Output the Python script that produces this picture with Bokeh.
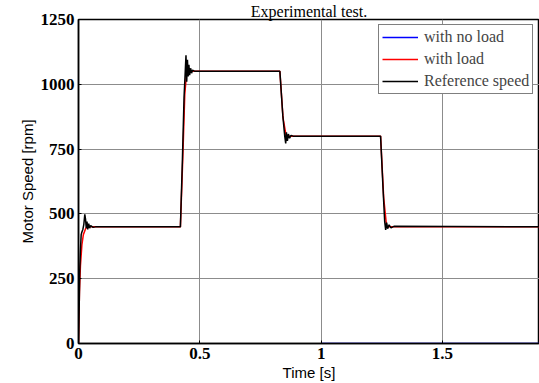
from bokeh.plotting import figure
from bokeh.models import Range1d, Legend, LegendItem, FixedTicker
from bokeh.embed import file_html
from bokeh.resources import INLINE

# Reference speed (black)
ref_t = [0, 0.003, 0.005, 0.008, 0.011, 0.014, 0.018, 0.022, 0.026, 0.029, 0.032, 0.035,
         0.038, 0.042, 0.046, 0.05, 0.06, 0.07, 0.42, 0.428, 0.435, 0.44, 0.443, 0.446,
         0.449, 0.452, 0.455, 0.458, 0.462, 0.466, 0.47, 0.48, 0.83, 0.842, 0.85, 0.854,
         0.857, 0.861, 0.865, 0.87, 0.876, 0.885, 1.245, 1.255, 1.262, 1.266, 1.27, 1.274,
         1.28, 1.288, 1.3, 1.9]
ref_v = [0, 150, 280, 360, 420, 430, 440, 460, 498, 480, 445, 470, 440, 462, 445, 455, 448,
         450, 450, 700, 950, 1050, 1112, 1010, 1095, 1030, 1075, 1035, 1062, 1043, 1055,
         1050, 1050, 880, 800, 772, 815, 782, 808, 792, 803, 800, 800, 600, 470, 438, 466,
         443, 458, 446, 452, 450]

# With load (red)
load_t = [0, 0.004, 0.008, 0.014, 0.02, 0.03, 0.045, 0.42, 0.43, 0.438, 0.446, 0.83,
          0.843, 0.856, 1.245, 1.258, 1.27, 1.9]
load_v = [0, 200, 300, 380, 420, 445, 450, 450, 720, 960, 1050, 1050, 870, 800, 800,
          560, 450, 450]

# With no load (blue)
noload_t = [1.0, 1.9]
noload_v = [0, 0]

x_ticks = [0, 0.5, 1, 1.5]
y_ticks = [0, 250, 500, 750, 1000, 1250]

SERIF = "Times New Roman"
SANS = "Arial"

p = figure(width=539, height=383, output_backend="svg", toolbar_location=None,
           x_range=Range1d(0, 1.9), y_range=Range1d(0, 1250),
           min_border_left=78, min_border_right=0, min_border_top=0, min_border_bottom=40,
           title="Experimental test.")
p.outline_line_color = "black"
p.outline_line_width = 1.5
p.background_fill_color = "white"
p.border_fill_color = "white"

p.title.align = "center"
p.title.text_font = SERIF
p.title.text_font_style = "normal"
p.title.text_font_size = "16px"
p.title.text_color = "black"
p.title.standoff = 0
p.title.text_line_height = 0.5

r_blue = p.line(noload_t, noload_v, line_color="#0000ff", line_width=1.5)
r_red = p.line(load_t, load_v, line_color="#ff0000", line_width=1.5)
r_black = p.line(ref_t, ref_v, line_color="black", line_width=1.5)

for ax in (p.xaxis[0], p.yaxis[0]):
    ax.major_label_text_font = SERIF
    ax.major_label_text_font_style = "bold"
    ax.major_label_text_font_size = "17px"
    ax.major_label_text_color = "black"
    ax.axis_label_text_font = SANS
    ax.axis_label_text_font_style = "normal"
    ax.axis_label_text_font_size = "15px"
    ax.axis_label_text_color = "black"
    ax.major_tick_in = 3
    ax.major_tick_out = 0
    ax.minor_tick_line_color = None
    ax.axis_line_color = "black"
    ax.axis_line_width = 1.5
    ax.major_label_standoff = 4
    ax.axis_label_standoff = 2

p.xaxis[0].ticker = FixedTicker(ticks=x_ticks)
p.yaxis[0].ticker = FixedTicker(ticks=y_ticks)
p.xaxis[0].axis_label = "Time [s]"
p.yaxis[0].axis_label = "Motor Speed [rpm]"

p.xgrid.ticker = FixedTicker(ticks=x_ticks)
p.ygrid.ticker = FixedTicker(ticks=y_ticks)
p.grid.grid_line_color = "#8c8c8c"
p.grid.grid_line_width = 1

legend = Legend(items=[LegendItem(label="with no load", renderers=[r_blue]),
                       LegendItem(label="with load", renderers=[r_red]),
                       LegendItem(label="Reference speed", renderers=[r_black])],
                location=(300, 249))
legend.label_text_font = SERIF
legend.label_text_font_size = "16px"
legend.label_standoff = 6
legend.glyph_width = 36
legend.glyph_height = 18
legend.label_height = 18
legend.spacing = 4
legend.padding = 3
legend.margin = 0
legend.border_line_color = "black"
legend.border_line_width = 1.5
legend.background_fill_alpha = 1
p.add_layout(legend, "center")

open("out.html", "w").write(file_html(p, INLINE))
